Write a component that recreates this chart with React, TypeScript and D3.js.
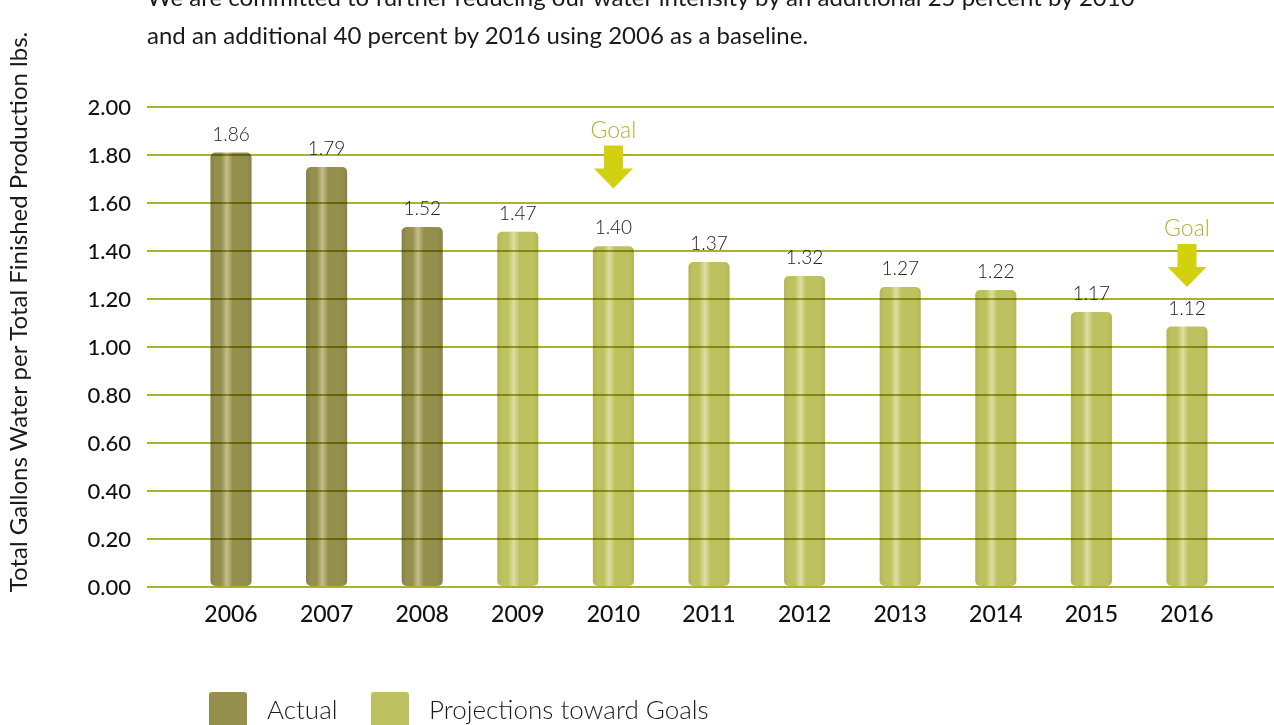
import React from 'react';
import * as d3 from 'd3';

const years = ['2006', '2007', '2008', '2009', '2010', '2011', '2012', '2013', '2014', '2015', '2016'];
const barValues = [1.81, 1.75, 1.5, 1.48, 1.42, 1.354, 1.296, 1.25, 1.237, 1.146, 1.085];
const valueLabels = ['1.86', '1.79', '1.52', '1.47', '1.40', '1.37', '1.32', '1.27', '1.22', '1.17', '1.12'];
const seriesOf = ['Actual', 'Actual', 'Actual', 'Projections toward Goals', 'Projections toward Goals', 'Projections toward Goals', 'Projections toward Goals', 'Projections toward Goals', 'Projections toward Goals', 'Projections toward Goals', 'Projections toward Goals'];
const legendItems = ['Actual', 'Projections toward Goals'];
const goalYears = ['2010', '2016'];
const goalTipValues = [1.66, 1.25];
const yTicks = [0, 0.2, 0.4, 0.6, 0.8, 1.0, 1.2, 1.4, 1.6, 1.8, 2.0];
const titleLines = [
  'We are committed to further reducing our water intensity by an additional 25 percent by 2010',
  'and an additional 40 percent by 2016 using 2006 as a baseline.',
];
const yTitle = 'Total Gallons Water per Total Finished Production lbs.';

const W = 1274;
const H = 725;
const FONT = 'Lato, "Open Sans", sans-serif';

const colors: Record<string, { base: string; light: string; dark: string }> = {
  Actual: { base: '#948f4c', light: '#c4c08e', dark: '#878245' },
  'Projections toward Goals': { base: '#bdc15f', light: '#dcdfa2', dark: '#b2b656' },
};

export default function App() {
  const x = d3
    .scaleBand<string>()
    .domain(years)
    .range([183.2, 1234.8])
    .paddingInner(0.57)
    .paddingOuter(0.285);
  const y = d3.scaleLinear().domain([0, 2]).range([587, 107]);
  const bw = x.bandwidth();

  return (
    <svg
      width={W}
      height={H}
      viewBox={`0 0 ${W} ${H}`}
      style={{ position: 'absolute', left: 0, top: 0, background: '#fff' }}
    >
      <defs>
        {legendItems.map((s, i) => (
          <linearGradient key={s} id={`grad${i}`} x1="0" x2="1" y1="0" y2="0">
            <stop offset="0" stopColor={colors[s].dark} />
            <stop offset="0.12" stopColor={colors[s].base} />
            <stop offset="0.26" stopColor={colors[s].base} />
            <stop offset="0.4" stopColor={colors[s].light} />
            <stop offset="0.54" stopColor={colors[s].base} />
            <stop offset="0.88" stopColor={colors[s].base} />
            <stop offset="1" stopColor={colors[s].dark} />
          </linearGradient>
        ))}
      </defs>

      {/* title */}
      <g fontFamily={FONT} fontSize={24} fill="#1a1a1a">
        {titleLines.map((t, i) => (
          <text key={i} x={147} y={6 + i * 38}>
            {t}
          </text>
        ))}
      </g>

      {/* y axis title */}
      <text
        transform={`translate(27, 312) rotate(-90)`}
        textAnchor="middle"
        fontFamily={FONT}
        fontSize={24}
        fill="#1a1a1a"
      >
        {yTitle}
      </text>

      {/* bars */}
      {years.map((yr, i) => {
        const gi = legendItems.indexOf(seriesOf[i]);
        const top = y(barValues[i]);
        return (
          <rect
            key={yr}
            x={x(yr)}
            y={top}
            width={bw}
            height={y(0) - 1 - top}
            rx={5}
            ry={5}
            fill={`url(#grad${gi})`}
          />
        );
      })}

      {/* gridlines */}
      <g style={{ mixBlendMode: 'multiply' }}>
        {yTicks.map((t) => (
          <line key={t} x1={147} x2={W} y1={y(t)} y2={y(t)} stroke="#adb12c" strokeWidth={2} />
        ))}
      </g>

      {/* y tick labels */}
      <g fontFamily={FONT} fontSize={22} fontWeight={500} fill="#111" textAnchor="end">
        {yTicks.map((t) => (
          <text key={t} x={131} y={y(t)} dy="0.36em">
            {t.toFixed(2)}
          </text>
        ))}
      </g>

      {/* x labels */}
      <g fontFamily={FONT} fontSize={23} fontWeight={500} fill="#111" textAnchor="middle">
        {years.map((yr) => (
          <text key={yr} x={(x(yr) as number) + bw / 2} y={622}>
            {yr}
          </text>
        ))}
      </g>

      {/* value labels */}
      <g fontFamily={FONT} fontSize={19} fontWeight={300} fill="#222" textAnchor="middle">
        {years.map((yr, i) => (
          <text key={yr} x={(x(yr) as number) + bw / 2} y={y(barValues[i]) - 12}>
            {valueLabels[i]}
          </text>
        ))}
      </g>

      {/* goal arrows */}
      {goalYears.map((yr, i) => {
        const cx = (x(yr) as number) + bw / 2;
        const tip = y(goalTipValues[i]);
        const headH = 20;
        const shaftH = 23;
        const path = d3.path();
        path.moveTo(cx - 9.5, tip - headH - shaftH);
        path.lineTo(cx + 9.5, tip - headH - shaftH);
        path.lineTo(cx + 9.5, tip - headH);
        path.lineTo(cx + 19.5, tip - headH);
        path.lineTo(cx, tip);
        path.lineTo(cx - 19.5, tip - headH);
        path.lineTo(cx - 9.5, tip - headH);
        path.closePath();
        return (
          <g key={yr}>
            <path d={path.toString()} fill="#d3d10f" />
            <text
              x={cx}
              y={tip - headH - shaftH - 8}
              textAnchor="middle"
              fontFamily={FONT}
              fontSize={23}
              fontWeight={300}
              fill="#aeb23a"
            >
              Goal
            </text>
          </g>
        );
      })}

      {/* legend */}
      {legendItems.map((s, i) => {
        const lx = i === 0 ? 209 : 371;
        return (
          <g key={s}>
            <rect x={lx} y={692} width={38} height={38} rx={3} fill={colors[s].base} />
            <text
              x={lx + 58}
              y={719}
              fontFamily={FONT}
              fontSize={26}
              fontWeight={300}
              fill="#1a1a1a"
            >
              {s}
            </text>
          </g>
        );
      })}
    </svg>
  );
}
